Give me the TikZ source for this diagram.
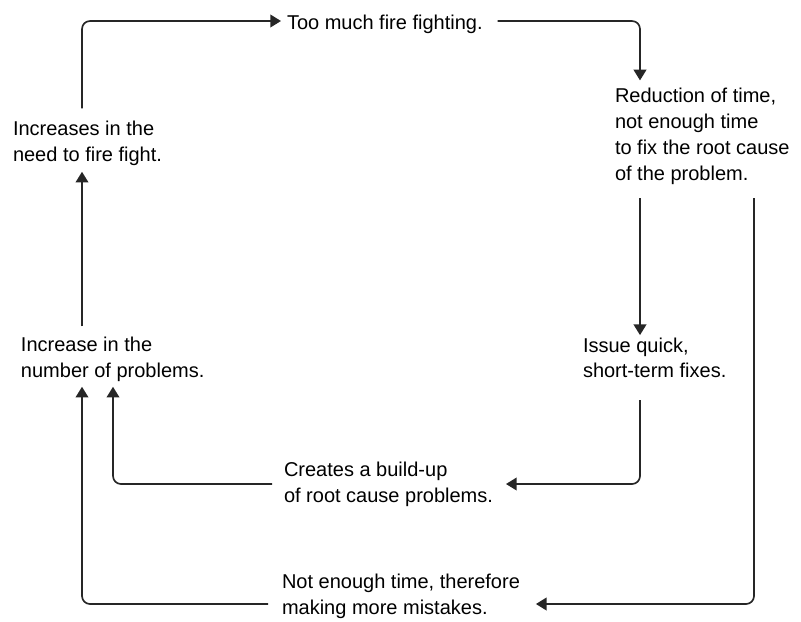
\documentclass[tikz,border=0pt]{standalone}
\usepackage{fontspec}
\setmainfont{Liberation Sans}
\usetikzlibrary{arrows.meta,calc}

\tikzset{
  label text/.style={anchor=north west, inner sep=0pt, outer sep=0pt, align=left,
    text=black, font=\fontsize{15pt}{19.3pt}\selectfont},
  flow/.style={draw=black!85, line width=1.25pt, rounded corners=6pt,
    -{Triangle[length=8pt,width=9.5pt]}},
}

\begin{document}
\begin{tikzpicture}[x=0.75pt, y=-0.75pt]
  \useasboundingbox (0,0) rectangle (801,622);

  % the seven statements of the cycle
  \node[label text] (fire)  at (287,15.4)  {Too much fire fighting.};
  \node[label text] (reduc) at (615,88.4)  {Reduction of time,\\not enough time\\to fix the root cause\\of the problem.};
  \node[label text] (issue) at (583,337.6) {Issue quick,\\short-term fixes.};
  \node[label text] (build) at (284,462.4) {Creates a build-up\\of root cause problems.};
  \node[label text] (mist)  at (282,574.4) {Not enough time, therefore\\making more mistakes.};
  \node[label text] (incr)  at (21,337.4)  {Increase in the\\number of problems.};
  \node[label text] (need)  at (13,121.4)  {Increases in the\\need to fire fight.};

  % corner points of the connectors
  \coordinate (cTL) at (82,21);
  \coordinate (cTR) at (640,21);
  \coordinate (cMR) at (640,484);
  \coordinate (cML) at (113,484);
  \coordinate (cBR) at (754,604);
  \coordinate (cBL) at (82,604);

  % connectors
  \draw[flow] ($(need.north -| cTL)+(0,-13)$) -- (cTL) -- ($(fire.west |- cTL)+(-6,0)$);
  \draw[flow] ($(fire.east |- cTR)+(15,0)$) -- (cTR) -- ($(reduc.north -| cTR)+(0,-8)$);
  \draw[flow] ($(reduc.south -| cTR)+(0,14)$) -- ($(issue.north -| cTR)+(0,-2.5)$);
  \draw[flow] ($(issue.south -| cMR)+(0,22)$) -- (cMR) -- ($(build.east |- cMR)+(13,0)$);
  \draw[flow] ($(build.west |- cML)+(-12,0)$) -- (cML) -- ($(incr.south -| cML)+(0,5)$);
  \draw[flow] ($(reduc.south -| cBR)+(0,14)$) -- (cBR) -- ($(mist.east |- cBR)+(16,0)$);
  \draw[flow] ($(mist.west |- cBL)+(-14,0)$) -- (cBL) -- ($(incr.south -| cBL)+(0,5)$);
  \draw[flow] ($(incr.north -| cBL)+(0,-11)$) -- ($(need.south -| cBL)+(0,6)$);
\end{tikzpicture}
\end{document}
